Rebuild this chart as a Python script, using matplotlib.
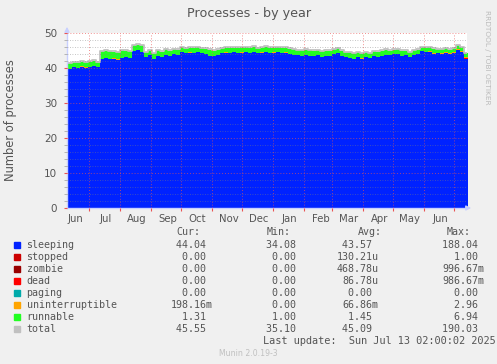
import matplotlib
matplotlib.use('Agg')
import matplotlib.pyplot as plt
import matplotlib.dates as mdates
import numpy as np
import datetime as dt

# ---------------- data (one value every 4 days) ----------------
first_day = dt.datetime(2024, 6, 10)
step_days = 4

sleeping = [39.8, 40.2, 40.0, 40.4, 40.1, 40.3, 40.5, 40.2,
            42.6, 42.8, 42.5, 42.7, 42.4, 42.9, 43.0, 42.8,
            44.8, 45.0, 44.6, 43.0, 43.6, 42.5, 43.5, 43.2,
            43.8, 43.5, 44.0, 43.6, 44.5, 44.3, 44.4, 44.2,
            44.5, 44.3, 44.0, 43.5, 43.3, 43.8, 44.3, 44.4,
            44.2, 44.5, 44.3, 44.4, 44.6, 44.3, 44.5, 44.2,
            44.4, 44.6, 44.3, 44.4, 44.5, 44.2, 44.4, 44.0,
            43.8, 43.6, 43.4, 43.7, 43.5, 43.3, 43.6, 43.2,
            43.5, 43.4, 44.0, 44.2, 43.4, 43.0, 42.8, 42.6,
            43.0, 42.7, 43.1, 42.9, 43.3, 43.1, 43.5, 43.8,
            43.6, 43.9, 44.0, 43.4, 43.7, 43.2, 43.8, 44.0,
            44.8, 44.5, 44.6, 44.0, 44.2, 44.0, 44.3, 44.1,
            44.4, 45.2, 44.6, 42.6]

runnable = [1.5, 1.4, 1.6, 1.3, 1.5, 1.4, 1.5, 1.4,
            2.1, 2.0, 2.2, 1.9, 2.0, 2.1, 1.8, 1.9,
            1.7, 1.6, 1.8, 1.5, 1.4, 1.6, 1.5, 1.4,
            1.5, 1.4, 1.3, 1.5, 1.4, 1.3, 1.4, 1.5,
            1.4, 1.3, 1.5, 1.6, 1.5, 1.4, 1.3, 1.4,
            1.5, 1.3, 1.4, 1.5, 1.3, 1.4, 1.5, 1.4,
            1.3, 1.4, 1.5, 1.3, 1.4, 1.5, 1.3, 1.4,
            1.5, 1.4, 1.6, 1.4, 1.5, 1.6, 1.4, 1.5,
            1.4, 1.5, 1.3, 1.4, 1.5, 1.4, 1.6, 1.5,
            1.4, 1.5, 1.4, 1.3, 1.4, 1.5, 1.3, 1.4,
            1.3, 1.2, 1.3, 1.4, 1.2, 1.3, 1.2, 1.1,
            1.0, 1.1, 1.0, 1.2, 1.0, 1.1, 1.0, 0.9,
            1.0, 1.1, 1.0, 1.0]

uninterruptible = [0.05] * 88 + [0.1, 0.2, 0.3, 0.3, 0.2, 0.3, 0.3, 0.2, 0.3, 0.2, 0.3, 0.4]
dead = [0.0] * 99 + [0.2]

series_names = ["sleeping", "stopped", "zombie", "dead", "paging",
                "uninterruptible", "runnable", "total"]
series_colors = ["#0022FF", "#CC0000", "#990000", "#FF0000", "#00AAAA",
                 "#FFA500", "#22FF22", "#C0C0C0"]
cur_vals = ["44.04", "0.00", "0.00", "0.00", "0.00", "198.16m", "1.31", "45.55"]
min_vals = ["34.08", "0.00", "0.00", "0.00", "0.00", "0.00", "1.00", "35.10"]
avg_vals = ["43.57", "130.21u", "468.78u", "86.78u", "0.00", "66.86m", "1.45", "45.09"]
max_vals = ["188.04", "1.00", "996.67m", "986.67m", "0.00", "2.96", "6.94", "190.03"]

month_starts = [dt.datetime(2024, m, 1) for m in range(7, 13)] + \
               [dt.datetime(2025, m, 1) for m in range(1, 8)]
month_labels = ["Jun", "Jul", "Aug", "Sep", "Oct", "Nov", "Dec",
                "Jan", "Feb", "Mar", "Apr", "May", "Jun"]
label_dates = [dt.datetime(2024, m, 18) for m in range(6, 13)] + \
              [dt.datetime(2025, m, 18) for m in range(1, 7)]

# ---------------- figure ----------------
W, H = 497, 364
fig = plt.figure(figsize=(W / 100, H / 100), dpi=100, facecolor="#F0F0F0")

def fx(x):
    return x / W

def fy(y):
    return 1 - y / H

ax = fig.add_axes([fx(67), fy(208), 400 / W, 175 / H])
ax.set_facecolor("white")

x0 = mdates.date2num(first_day)
n = len(sleeping)
xs = x0 + np.arange(n + 1) * step_days
xs[-1] = x0 + 400

def ext(a):
    a = np.asarray(a, dtype=float)
    return np.append(a, a[-1])

s = ext(sleeping)
d = ext(dead)
u = ext(uninterruptible)
r = ext(runnable)
lvl1 = s
lvl2 = lvl1 + d
lvl3 = lvl2 + u
lvl4 = lvl3 + r

ax.fill_between(xs, 0, lvl1, step="post", color=series_colors[0], lw=0)
ax.fill_between(xs, lvl1, lvl2, step="post", color=series_colors[3], lw=0)
ax.fill_between(xs, lvl2, lvl3, step="post", color=series_colors[5], lw=0)
ax.fill_between(xs, lvl3, lvl4, step="post", color=series_colors[6], lw=0)
ax.step(xs, lvl4 + 0.15, where="post", color=series_colors[7], lw=1.3)

xstart = mdates.date2num(dt.datetime(2024, 6, 9, 12))
ax.set_xlim(xstart, xstart + 400)
ax.set_ylim(0, 50)

# ticks & grid
ax.set_xticks([mdates.date2num(m) for m in month_starts])
ax.set_xticklabels([])
ax.set_xticks([mdates.date2num(m) for m in label_dates], minor=True)
ax.set_xticklabels(month_labels, minor=True)
ax.tick_params(axis="x", which="major", length=2, color="#E95353", width=0.8)
ax.tick_params(axis="x", which="minor", length=0, pad=4, labelsize=7.3, labelcolor="#555555")

ax.set_yticks(np.arange(0, 51, 10))
ax.set_yticks(np.arange(0, 51, 2), minor=True)
ax.tick_params(axis="y", which="major", length=2, color="#E95353", width=0.8,
               labelsize=7.5, labelcolor="#555555", pad=5)
ax.tick_params(axis="y", which="minor", length=2, color="#AAAAAA", width=0.6)

ax.set_axisbelow(False)
ax.grid(True, axis="x", which="major", color="#E95353", alpha=0.65, lw=0.7, ls=(0, (1, 2)))
ax.grid(True, axis="y", which="major", color="#E95353", alpha=0.65, lw=0.7, ls=(0, (1, 2)))
ax.grid(True, axis="y", which="minor", color="#7F7F7F", alpha=0.6, lw=0.6, ls=(0, (1, 2)))

for sp in ["top", "right"]:
    ax.spines[sp].set_visible(False)
axis_col = "#C8D0FF"
ax.spines["left"].set_color(axis_col)
ax.spines["bottom"].set_color(axis_col)
ax.spines["left"].set_linewidth(1)
ax.spines["bottom"].set_linewidth(1)

ax.annotate("", xy=(1 + 7 / 400, 0), xytext=(0.995, 0), xycoords="axes fraction",
            arrowprops=dict(arrowstyle="-|>", color=axis_col, lw=1, mutation_scale=7),
            annotation_clip=False)
ax.annotate("", xy=(0, 1 + 9 / 175), xytext=(0, 0.99), xycoords="axes fraction",
            arrowprops=dict(arrowstyle="-|>", color=axis_col, lw=1, mutation_scale=7),
            annotation_clip=False)

# texts
txt = "#555555"
fig.text(fx(249), fy(14), "Processes - by year", ha="center", va="center",
         fontsize=9.2, color=txt)
fig.text(fx(11), fy(120), "Number of processes", ha="center", va="center",
         rotation=90, fontsize=8.3, color=txt)
fig.text(fx(487), fy(57), "RRDTOOL / TOBI OETIKER", ha="center", va="center",
         rotation=-90, fontsize=5.3, color="#BBBBBB")

mono = dict(family="DejaVu Sans Mono", fontsize=7.2, color=txt, va="center")
hy = 232.5
fig.text(fx(176.5), fy(hy), "Cur:", ha="left", **mono)
fig.text(fx(266.5), fy(hy), "Min:", ha="left", **mono)
fig.text(fx(357.5), fy(hy), "Avg:", ha="left", **mono)
fig.text(fx(446.5), fy(hy), "Max:", ha="left", **mono)

def pad(v):
    return v if v[-1] in "mu" else v + " "

for i, name in enumerate(series_names):
    y = 245 + i * 12
    fig.patches.append(plt.Rectangle((fx(14), fy(y + 3)), 6 / W, 6 / H,
                                     transform=fig.transFigure, color=series_colors[i],
                                     figure=fig))
    fig.text(fx(26.5), fy(y), name, ha="left", **mono)
    fig.text(fx(212.5), fy(y), pad(cur_vals[i]), ha="right", **mono)
    fig.text(fx(302.5), fy(y), pad(min_vals[i]), ha="right", **mono)
    fig.text(fx(378.5), fy(y), pad(avg_vals[i]), ha="right", **mono)
    fig.text(fx(484), fy(y), pad(max_vals[i]), ha="right", **mono)

fig.text(fx(495.5), fy(341.5), "Last update:  Sun Jul 13 02:00:02 2025", ha="right",
         family="DejaVu Sans Mono", fontsize=7.35, color=txt, va="center")
fig.text(fx(248.5), fy(353), "Munin 2.0.19-3", ha="center", va="center",
         fontsize=5.6, color="#C0C0C0")

fig.savefig("out.png", dpi=100, facecolor=fig.get_facecolor())
